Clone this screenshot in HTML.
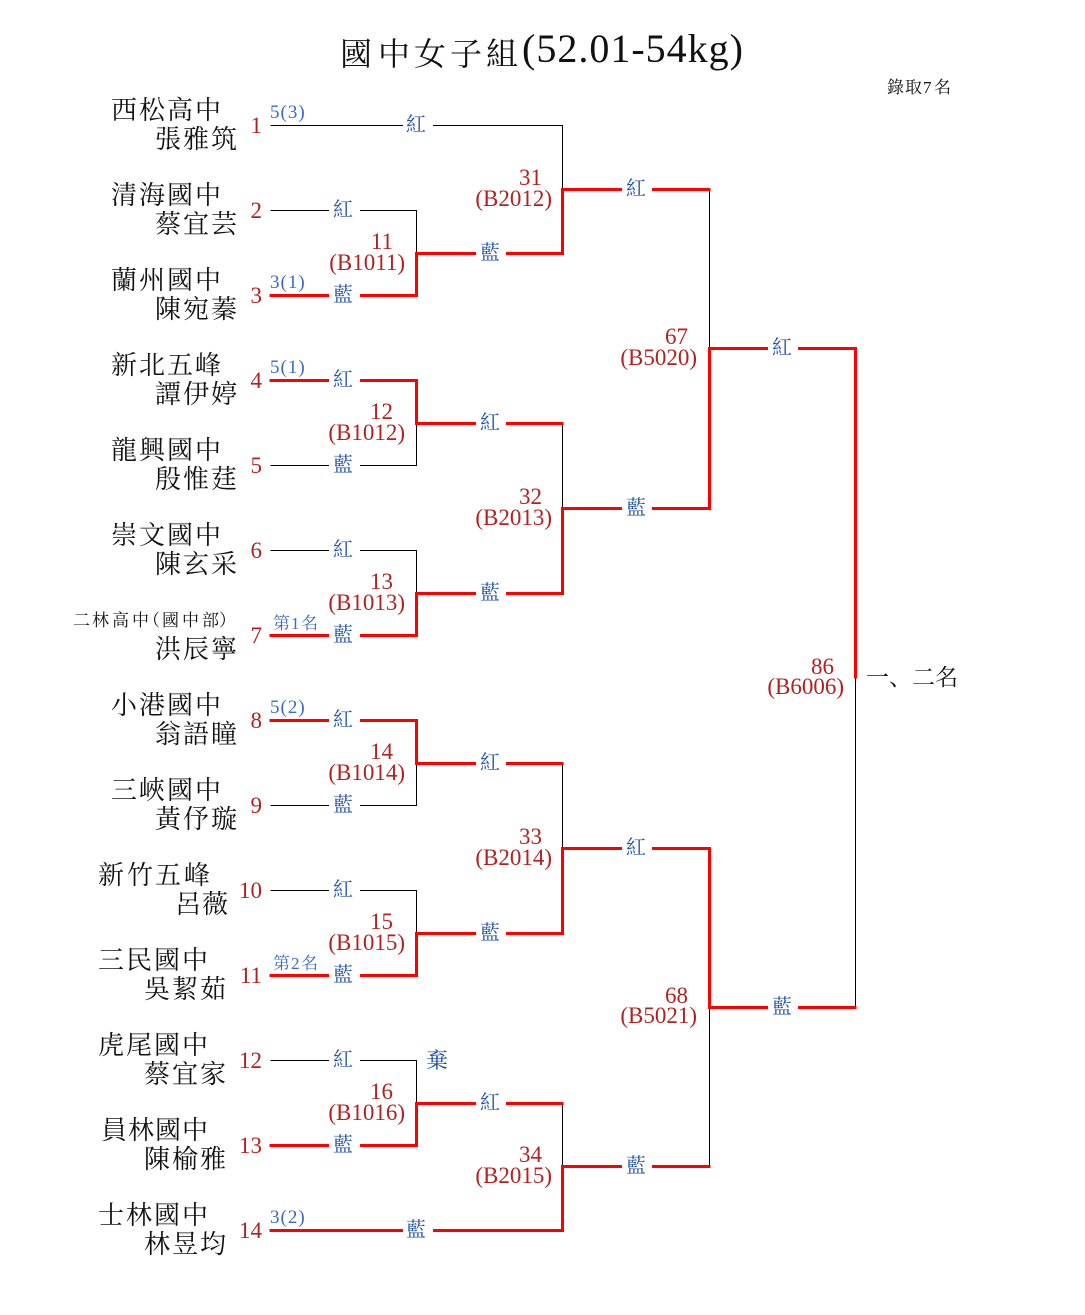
<!DOCTYPE html>
<html><head><meta charset="utf-8"><style>
html,body{margin:0;padding:0;background:#fff;}
svg{display:block;}
.cj{font-family:"Liberation Serif","Noto Serif CJK SC","Noto Serif CJK JP",serif;}
.lat{font-family:"Liberation Serif",serif;}
.nm{font-size:26px;fill:#111;}
.num{font-size:23px;fill:#b22222;}
.seed{font-size:19px;fill:#3a6bc4;letter-spacing:1px;}
.lb{font-size:20px;fill:#1f4fa3;}
</style></head><body>
<svg width="1085" height="1315" viewBox="0 0 1085 1315" xmlns="http://www.w3.org/2000/svg">
<rect width="1085" height="1315" fill="#fff"/>
<g transform="translate(0.5,0.5)" fill="none">
<g stroke="#000" stroke-width="1">
<polyline points="270,125 562,125 562,189"/>
<polyline points="270,210 416,210 416,253"/>
<polyline points="270,465 416,465 416,423"/>
<polyline points="270,550 416,550 416,593"/>
<polyline points="270,805 416,805 416,763"/>
<polyline points="270,890 416,890 416,933"/>
<polyline points="270,1060 416,1060 416,1103"/>
<line x1="562" y1="423" x2="562" y2="508"/>
<line x1="562" y1="763" x2="562" y2="848"/>
<line x1="562" y1="1103" x2="562" y2="1166"/>
<line x1="709" y1="189" x2="709" y2="348"/>
<line x1="709" y1="1007" x2="709" y2="1166"/>
<line x1="855" y1="678" x2="855" y2="1007"/>
</g>
<g stroke="#ff0000" stroke-width="3" stroke-linejoin="miter">
<polyline points="269,295 416,295 416,253 562,253 562,189 710,189"/>
<polyline points="269,380 416,380 416,423 563,423"/>
<polyline points="269,635 416,635 416,593 562,593 562,508 709,508 709,348 855,348 855,678"/>
<polyline points="269,720 416,720 416,763 563,763"/>
<polyline points="269,975 416,975 416,933 562,933 562,848 709,848 709,1007 856,1007"/>
<polyline points="269,1145 416,1145 416,1103 563,1103"/>
<polyline points="269,1230 562,1230 562,1166 710,1166"/>
</g>
</g>
<!-- label gaps -->
<g fill="#fff">
<rect x="329" y="205" width="31" height="8"/><rect x="329" y="290" width="31" height="8"/>
<rect x="329" y="375" width="31" height="8"/><rect x="329" y="460" width="31" height="8"/>
<rect x="329" y="545" width="31" height="8"/><rect x="329" y="630" width="31" height="8"/>
<rect x="329" y="715" width="31" height="8"/><rect x="329" y="800" width="31" height="8"/>
<rect x="329" y="885" width="31" height="8"/><rect x="329" y="970" width="31" height="8"/>
<rect x="329" y="1055" width="31" height="8"/><rect x="329" y="1140" width="31" height="8"/>
<rect x="403" y="120" width="30" height="8"/><rect x="403" y="1225" width="30" height="8"/>
<rect x="476" y="248" width="30" height="8"/><rect x="476" y="418" width="30" height="8"/>
<rect x="476" y="588" width="30" height="8"/><rect x="476" y="758" width="30" height="8"/>
<rect x="476" y="928" width="30" height="8"/><rect x="476" y="1098" width="30" height="8"/>
<rect x="622" y="184" width="30" height="8"/><rect x="622" y="503" width="30" height="8"/>
<rect x="622" y="843" width="30" height="8"/><rect x="622" y="1161" width="30" height="8"/>
<rect x="768" y="343" width="30" height="8"/><rect x="768" y="1002" width="30" height="8"/>
</g>

<!-- title -->
<text class="cj" font-size="32" fill="#111" x="340 378 414 450 486" y="65">國中女子組</text>
<text class="lat" font-size="40" fill="#111" x="522" y="62" textLength="221" lengthAdjust="spacing">(52.01-54kg)</text>
<text class="cj" font-size="17" fill="#111" x="887 905" y="93">錄取</text>
<text class="lat" font-size="17" fill="#111" x="923" y="93">7</text>
<text class="cj" font-size="17" fill="#111" x="934" y="93">名</text>
<text class="cj" font-size="23" fill="#111" x="866 889 912 935" y="685">一、二名</text>

<!-- names -->
<g class="cj nm">
<text x="111 139 167 195" y="119">西松高中</text><text x="155 183 211" y="148">張雅筑</text>
<text x="111 139 167 195" y="204">清海國中</text><text x="155 183 211" y="233">蔡宜芸</text>
<text x="111 139 167 195" y="289">蘭州國中</text><text x="155 183 211" y="318">陳宛蓁</text>
<text x="111 139 167 195" y="374">新北五峰</text><text x="155 183 211" y="403">譚伊婷</text>
<text x="111 139 167 195" y="459">龍興國中</text><text x="155 183 211" y="488">殷惟莛</text>
<text x="111 139 167 195" y="544">崇文國中</text><text x="155 183 211" y="573">陳玄采</text>
<text x="155 183 211" y="658">洪辰寧</text>
<text x="111 139 167 195" y="714">小港國中</text><text x="155 183 211" y="743">翁語瞳</text>
<text x="111 139 167 195" y="799">三峽國中</text><text x="155 183 211" y="828">黃伃璇</text>
<text x="98 127 155 184" y="884">新竹五峰</text><text x="175 202" y="913">呂薇</text>
<text x="98 126 154 182" y="969">三民國中</text><text x="144 172 200" y="998">吳絜茹</text>
<text x="98 126 154 182" y="1054">虎尾國中</text><text x="144 172 200" y="1083">蔡宜家</text>
<text x="101 128 155 182" y="1139">員林國中</text><text x="144 172 200" y="1168">陳榆雅</text>
<text x="98 126 154 182" y="1224">士林國中</text><text x="144 172 200" y="1253">林昱均</text>
</g>
<text class="cj" font-size="17" fill="#111" x="73 92 112 132 143 162 182 202 219" y="626">二林高中（國中部）</text>

<!-- row numbers -->
<g class="lat num" text-anchor="end">
<text x="262" y="133">1</text><text x="262" y="218">2</text><text x="262" y="303">3</text>
<text x="262" y="388">4</text><text x="262" y="473">5</text><text x="262" y="558">6</text>
<text x="262" y="643">7</text><text x="262" y="728">8</text><text x="262" y="813">9</text>
<text x="262" y="898">10</text><text x="262" y="983">11</text><text x="262" y="1068">12</text>
<text x="262" y="1153">13</text><text x="262" y="1238">14</text>
</g>

<!-- seeds -->
<g class="lat seed">
<text x="270" y="118">5(3)</text>
<text x="270" y="288">3(1)</text>
<text x="270" y="373">5(1)</text>
<text x="270" y="713">5(2)</text>
<text x="270" y="1223">3(2)</text>
</g>
<text class="cj" font-size="17" fill="#3a6bc4" x="273" y="629">第</text>
<text class="lat" font-size="17" fill="#3a6bc4" x="291" y="629">1</text>
<text class="cj" font-size="17" fill="#3a6bc4" x="301" y="629">名</text>
<text class="cj" font-size="17" fill="#3a6bc4" x="273" y="969">第</text>
<text class="lat" font-size="17" fill="#3a6bc4" x="291" y="969">2</text>
<text class="cj" font-size="17" fill="#3a6bc4" x="301" y="969">名</text>

<!-- match numbers -->
<g class="lat num" text-anchor="end">
<text x="393" y="249">11</text><text x="405" y="270">(B1011)</text>
<text x="393" y="419">12</text><text x="405" y="440">(B1012)</text>
<text x="393" y="589">13</text><text x="405" y="610">(B1013)</text>
<text x="393" y="759">14</text><text x="405" y="780">(B1014)</text>
<text x="393" y="929">15</text><text x="405" y="950">(B1015)</text>
<text x="393" y="1099">16</text><text x="405" y="1120">(B1016)</text>
<text x="542" y="185">31</text><text x="552" y="206">(B2012)</text>
<text x="542" y="504">32</text><text x="552" y="525">(B2013)</text>
<text x="542" y="844">33</text><text x="552" y="865">(B2014)</text>
<text x="542" y="1162">34</text><text x="552" y="1183">(B2015)</text>
<text x="688" y="344">67</text><text x="697" y="365">(B5020)</text>
<text x="688" y="1003">68</text><text x="697" y="1023">(B5021)</text>
<text x="834" y="674">86</text><text x="844" y="694">(B6006)</text>
</g>

<!-- red/blue labels -->
<g class="cj lb" text-anchor="middle">
<text x="343" y="216">紅</text><text x="343" y="301">藍</text>
<text x="343" y="386">紅</text><text x="343" y="471">藍</text>
<text x="343" y="556">紅</text><text x="343" y="641">藍</text>
<text x="343" y="726">紅</text><text x="343" y="811">藍</text>
<text x="343" y="896">紅</text><text x="343" y="981">藍</text>
<text x="343" y="1066">紅</text><text x="343" y="1151">藍</text>
<text x="416" y="131">紅</text><text x="416" y="1236">藍</text>
<text x="490" y="259">藍</text><text x="490" y="429">紅</text>
<text x="490" y="599">藍</text><text x="490" y="769">紅</text>
<text x="490" y="939">藍</text><text x="490" y="1109">紅</text>
<text x="636" y="195">紅</text><text x="636" y="514">藍</text>
<text x="636" y="854">紅</text><text x="636" y="1172">藍</text>
<text x="782" y="354">紅</text><text x="782" y="1013">藍</text>
</g>
<text class="cj" font-size="22" fill="#1f4fa3" x="426" y="1068">棄</text>
</svg>
</body></html>
